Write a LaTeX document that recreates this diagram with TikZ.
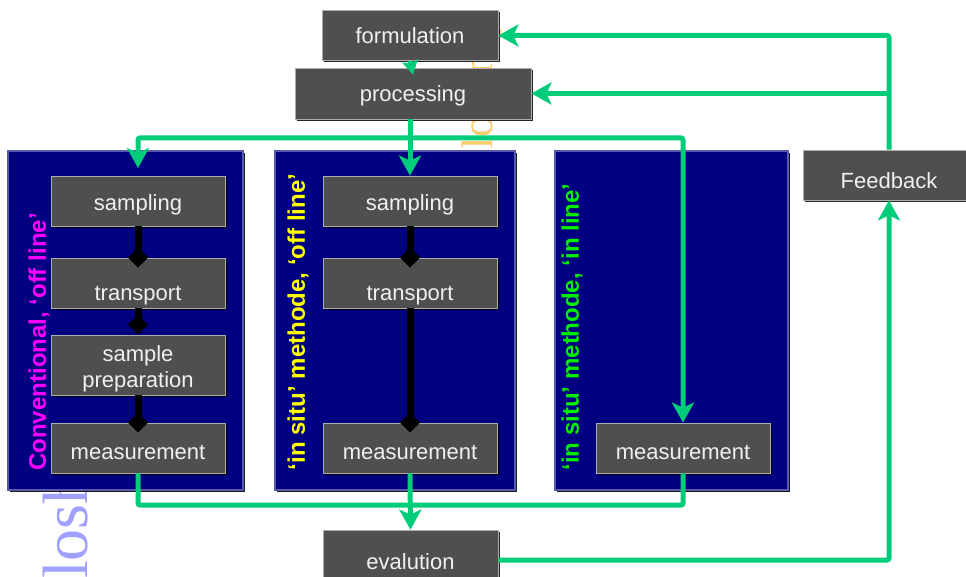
\documentclass[tikz,border=0pt]{standalone}
\usepackage{fontspec}
\setmainfont{Liberation Sans}
\newfontfamily\wmserif{Liberation Serif}
\usetikzlibrary{arrows.meta,shadows,positioning}
\definecolor{boxgrey}{RGB}{79,79,79}
\definecolor{panelblue}{RGB}{0,0,128}
\definecolor{paneledge}{RGB}{90,90,170}
\definecolor{flowgreen}{RGB}{0,204,122}
\definecolor{labmagenta}{RGB}{255,0,255}
\definecolor{labyellow}{RGB}{255,255,0}
\definecolor{labgreen}{RGB}{0,238,0}
\definecolor{wmblue}{RGB}{160,160,255}
\definecolor{wmorange}{RGB}{255,205,110}

\begin{document}
\begin{tikzpicture}[x=1pt, y=-1pt,
    stage/.style={rectangle, fill=boxgrey, draw=gray!65, line width=0.8pt, text=white!94!black,
               minimum width=174pt, minimum height=50pt, inner sep=0pt, align=center,
               font=\fontsize{22}{26}\selectfont,
               drop shadow={shadow xshift=2pt, shadow yshift=-2pt, fill=black, opacity=0.85}},
    low/.style={text height=#1, text depth=0pt},
    panel/.style={rectangle, fill=panelblue, draw=paneledge, line width=1.2pt,
               minimum height=339pt, inner sep=0pt,
               drop shadow={shadow xshift=2pt, shadow yshift=-2pt, fill=black, opacity=0.9}},
    plabel/.style={rotate=90, inner sep=0pt, font=\fontsize{24}{26}\selectfont\bfseries},
    wmark/.style={rotate=90, inner sep=0pt, anchor=base west, font=\wmserif},
    flow/.style={flowgreen, line width=5pt, rounded corners=2pt},
    flowarr/.style={flow, -{Stealth[length=20pt, width=22pt, inset=5pt]}},
    flowtip/.style={flow, -{Stealth[length=14pt, width=16pt, inset=3pt]}},
    chain/.style={black, line width=7pt, -{Diamond[length=20pt, width=20pt]}}
]
    \useasboundingbox (0,0) rectangle (966,577);

    % faint background lettering
    \node[wmark, text=wmblue, font=\wmserif\fontsize{64}{64}\selectfont] (wm1) at (87,579) {losh};
    \node[wmark, text=wmorange, font=\wmserif\fontsize{44}{44}\selectfont] (wm2) at (492,150) {locomp};

    % the three ways of measuring
    \node[panel, minimum width=235pt] (p1) at (125.5,320.5) {};
    \node[panel, minimum width=240pt] (p2) at (395,320.5) {};
    \node[panel, minimum width=233pt] (p3) at (671.5,320.5) {};
    \node[plabel, text=labmagenta] (l1) at (39,342) {Conventional, ‘off line’};
    \node[plabel, text=labyellow]  (l2) at (298,322) {‘in situ’ methode, ‘off line’};
    \node[plabel, text=labgreen]   (l3) at (572,327) {‘in situ’ methode, ‘in line’};

    % top and bottom of the loop
    \node[stage, low=16pt, minimum width=176pt] (form) at (410,35.5) {formulation};
    \node[stage, low=17pt, minimum width=236pt, minimum height=51pt] (proc) at (413,93.5) {processing};
    \node[stage, low=27pt, minimum width=172pt] (fb) at (889,175) {Feedback};
    \node[stage, low=18pt, minimum width=175pt, minimum height=60pt] (ev) at (410.5,560) {evalution};

    % conventional
    \node[stage, low=20pt] (s1) at (138,201) {sampling};
    \node[stage, low=34pt] (t1) at (138,283) {transport};
    \node[stage, low=45pt, minimum height=60pt] (pp1) at (138,365) {sample\\preparation};
    \node[stage, low=22pt] (m1) at (138,448) {measurement};
    % in situ, off line
    \node[stage, low=20pt] (s2) at (410,201) {sampling};
    \node[stage, low=34pt] (t2) at (410,283) {transport};
    \node[stage, low=22pt] (m2) at (410,448) {measurement};
    % in situ, in line
    \node[stage, low=22pt] (m3) at (683,448) {measurement};

    % steps inside the panels
    \draw[chain] (s1.south) -- ([yshift=-10pt]t1.north);
    \draw[chain] (t1.south) -- (pp1.north);
    \draw[chain] (pp1.south) -- ([yshift=-10pt]m1.north);
    \draw[chain] (s2.south) -- ([yshift=-10pt]t2.north);
    \draw[chain] (t2.south) -- ([yshift=-10pt]m2.north);

    % green flow
    \coordinate (split) at (410,138);
    \coordinate (in1) at (138,168);
    \coordinate (join) at (410,505);
    \draw[flowtip] (form.south) -- ([yshift=-7pt]proc.north);
    \draw[flow] (split |- proc.south) -- (split);
    \draw[flowarr] (split) -| (in1);
    \draw[flowarr] (split) -- (s2.north);
    \draw[flowarr] (split) -| (m3.north);
    \draw[flow] (m1.south) |- (join) -| (m3.south);
    \draw[flowarr] (m2.south) -- (ev.north);
    \draw[flowarr] (ev.east) -| (fb.south);
    \draw[flowarr] (fb.north) |- (form.east);
    \draw[flowarr] (fb.north |- proc.east) -- (proc.east);
\end{tikzpicture}
\end{document}
